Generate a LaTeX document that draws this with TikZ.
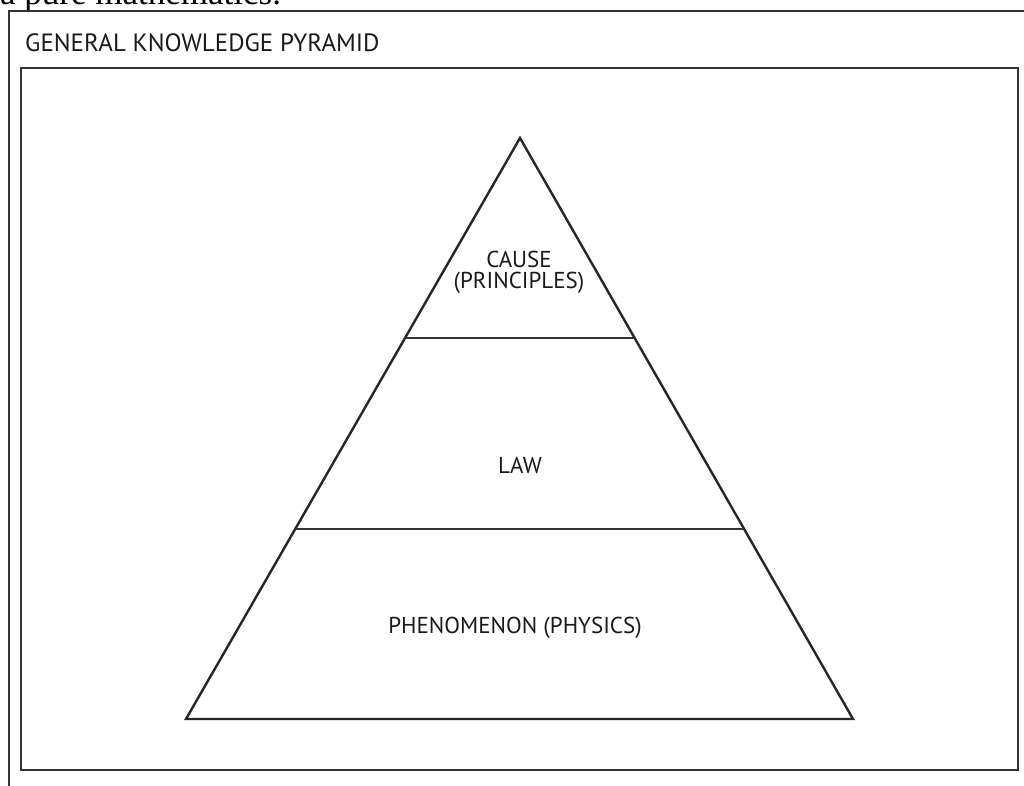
\documentclass[tikz,border=0pt]{standalone}
\usepackage{fontspec}
\setmainfont{Liberation Serif}
\newfontfamily\labelfont{PT Sans}
\begin{document}
\begin{tikzpicture}[x=1pt, y=-1pt,
  frame/.style={draw=black!80, line width=2.2pt},
  edge/.style={draw=black!85, line width=2.4pt, line join=miter},
  divider/.style={draw=black!80, line width=2.2pt},
  lbl/.style={font=\labelfont\fontsize{23}{21}\selectfont, text=black!90, align=center, inner sep=0pt},
  title/.style={font=\labelfont\fontsize{25}{28}\selectfont, text=black!90, anchor=west, inner sep=0pt}]
  \useasboundingbox (0,0) rectangle (1024,785);
  \begin{scope}
    \clip (0,0) rectangle (1024,785);
    % running text from the page above, cut by the top edge
    \node[anchor=base west, inner sep=0pt, font=\fontsize{35}{40}\selectfont] (caption) at (0,4) {a pure mathematics.};
    % outer panel, running off the page on the right and bottom
    \draw[frame] (9,800) -- (9,11) -- (1040,11);
  \end{scope}
  \node[title] (heading) at (25,43) {GENERAL KNOWLEDGE PYRAMID};
  % inner panel
  \draw[frame] (21,68) rectangle (1018,770);
  % pyramid outline
  \coordinate (apex) at (520,138);
  \coordinate (bl) at (186,719);
  \coordinate (br) at (853,719);
  \draw[edge] (apex) -- (bl) -- (br) -- cycle;
  % tier dividers
  \path (apex) -- (bl) coordinate[pos=0.344] (t1l) coordinate[pos=0.673] (t2l);
  \path (apex) -- (br) coordinate[pos=0.344] (t1r) coordinate[pos=0.673] (t2r);
  \draw[divider] (t1l) -- (t1r);
  \draw[divider] (t2l) -- (t2r);
  \node[lbl] (cause) at (519,272) {CAUSE\\(PRINCIPLES)};
  \node[lbl] (law) at (520,465) {LAW};
  \node[lbl] (phen) at (515,628) {PHENOMENON (PHYSICS)};
\end{tikzpicture}
\end{document}
